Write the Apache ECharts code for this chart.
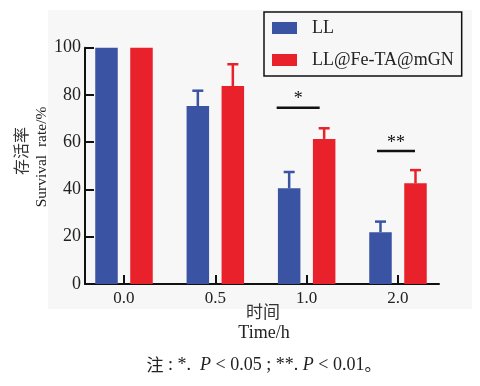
<!DOCTYPE html>
<html>
<head>
<meta charset="utf-8">
<script src="https://cdn.jsdelivr.net/npm/echarts@6/dist/echarts.min.js"></script>
<style>html,body{margin:0;padding:0;background:#fff;}#c{width:480px;height:386px;}</style>
</head>
<body>
<div id="c"></div>
<script>
// ---- data ----
const categories = ['0.0', '0.5', '1.0', '2.0'];
const seriesNames = ['LL', 'LL@Fe-TA@mGN'];
const llMean = [100, 75.3, 40.5, 21.9];
const llSD = [0, 6.5, 6.9, 4.5];
const mgnMean = [100, 83.8, 61.4, 42.6];
const mgnSD = [0, 9.2, 4.5, 5.6];
const sigCats = [2, 3];
const sigLevels = [74.6, 56.3];
const sigLabels = ['*', '**'];

// ---- style ----
const BLUE = '#3a53a3';
const RED = '#e8212a';
const BAR_W = 22.5;
const BAR_OFF = 17.5;
const CAP_W = 11;
const SIG_SPAN = [[-30, 13], [-21, 17]];
const SERIF = '"Liberation Serif","Times New Roman","Noto Sans CJK SC",serif';

function barRender(off) {
  return function (params, api) {
    const x = api.value(0), v = api.value(1), sd = api.value(2);
    const p0 = api.coord([x, 0]);
    const p1 = api.coord([x, v]);
    const pe = api.coord([x, v + sd]);
    const cx = p0[0] + off;
    const color = api.visual('color');
    const children = [{
      type: 'rect',
      shape: { x: cx - BAR_W / 2, y: p1[1], width: BAR_W, height: p0[1] - p1[1] },
      style: { fill: color }
    }];
    if (sd > 0) {
      children.push({ type: 'line', shape: { x1: cx, y1: p1[1], x2: cx, y2: pe[1] }, style: { stroke: color, lineWidth: 2.5 } });
      children.push({ type: 'line', shape: { x1: cx - CAP_W / 2, y1: pe[1], x2: cx + CAP_W / 2, y2: pe[1] }, style: { stroke: color, lineWidth: 2.5 } });
    }
    return { type: 'group', children: children };
  };
}

function sigRender(params, api) {
  const x = api.value(0), v = api.value(1);
  const p = api.coord([x, v]);
  const span = SIG_SPAN[params.dataIndex];
  const x1 = p[0] + span[0], x2 = p[0] + span[1];
  return {
    type: 'group',
    children: [
      { type: 'line', shape: { x1: x1, y1: p[1], x2: x2, y2: p[1] }, style: { stroke: '#111', lineWidth: 2.5 } },
      { type: 'text', x: (x1 + x2) / 2, y: p[1] - 8, style: { text: sigLabels[params.dataIndex], font: '18px ' + SERIF, fill: '#111', align: 'center', verticalAlign: 'middle' } }
    ]
  };
}

const idx = categories.map((c, i) => i);
const llData = idx.map(i => [i, llMean[i], llSD[i]]);
const mgnData = idx.map(i => [i, mgnMean[i], mgnSD[i]]);
const sigData = sigCats.map((c, i) => [c, sigLevels[i]]);

const chart = echarts.init(document.getElementById('c'), null, { renderer: 'canvas' });
chart.setOption({
  animation: false,
  backgroundColor: '#fff',
  graphic: [
    { type: 'rect', z: -10, shape: { x: 48, y: 10, width: 424, height: 299 }, style: { fill: '#f7f7f7' } },
    { type: 'text', x: 21, y: 151, rotation: Math.PI / 2, style: { text: '存活率', font: '16px "Noto Sans CJK SC"', fill: '#333', align: 'center', verticalAlign: 'middle' } },
    { type: 'text', x: 42, y: 157, rotation: Math.PI / 2, style: { text: 'Survival  rate/%', font: '15.5px ' + SERIF, fill: '#222', align: 'center', verticalAlign: 'middle' } },
    { type: 'text', x: 263, y: 312, style: { text: '时间', font: '17px "Noto Sans CJK SC"', fill: '#333', align: 'center', verticalAlign: 'middle' } },
    { type: 'text', x: 264, y: 333, style: { text: 'Time/h', font: '18px ' + SERIF, fill: '#222', align: 'center', verticalAlign: 'middle' } },
    { type: 'text', x: 264, y: 365, style: {
      text: '{c|注}{n| : *.  }{i|P}{n| < 0.05 ; **. }{i|P}{n| < 0.01}{c|。}',
      align: 'center', verticalAlign: 'middle',
      rich: {
        c: { font: '17px "Noto Sans CJK SC"', fill: '#222' },
        n: { font: '18px ' + SERIF, fill: '#222' },
        i: { font: 'italic 18px ' + SERIF, fill: '#222' }
      }
    } }
  ],
  legend: {
    orient: 'vertical',
    left: 264, top: 12,
    padding: [7, 8, 7, 8],
    itemGap: 14,
    itemWidth: 25, itemHeight: 12,
    borderColor: '#111', borderWidth: 1.5,
    icon: 'rect',
    data: seriesNames,
    textStyle: { fontFamily: SERIF, fontSize: 18, color: '#222', padding: [0, 0, 0, 10] }
  },
  grid: { left: 85, right: 41, top: 47.7, bottom: 102, containLabel: false },
  xAxis: {
    type: 'value',
    min: -0.427, max: 3.449,
    splitLine: { show: false },
    axisLine: { show: true, onZero: false, lineStyle: { color: '#111', width: 2 } },
    axisTick: { show: true, inside: true, length: 9, customValues: idx, lineStyle: { color: '#111', width: 2 } },
    axisLabel: { customValues: idx, formatter: v => categories[Math.round(v)], fontFamily: SERIF, fontSize: 17, color: '#222', margin: 6 }
  },
  yAxis: {
    type: 'value',
    min: 0, max: 100, interval: 20,
    splitLine: { show: false },
    axisLine: { show: true, onZero: false, lineStyle: { color: '#111', width: 2 } },
    axisTick: { show: true, inside: true, length: 9, lineStyle: { color: '#111', width: 2 } },
    axisLabel: { formatter: v => String(v), fontFamily: SERIF, fontSize: 18, color: '#222', margin: 4 }
  },
  series: [
    { name: seriesNames[0], type: 'custom', itemStyle: { color: BLUE }, renderItem: barRender(-BAR_OFF), data: llData, encode: { x: 0, y: 1 } },
    { name: seriesNames[1], type: 'custom', itemStyle: { color: RED }, renderItem: barRender(BAR_OFF), data: mgnData, encode: { x: 0, y: 1 } },
    { name: 'sig', type: 'custom', silent: true, renderItem: sigRender, data: sigData, encode: { x: 0, y: 1 } }
  ]
});
</script>
</body>
</html>
